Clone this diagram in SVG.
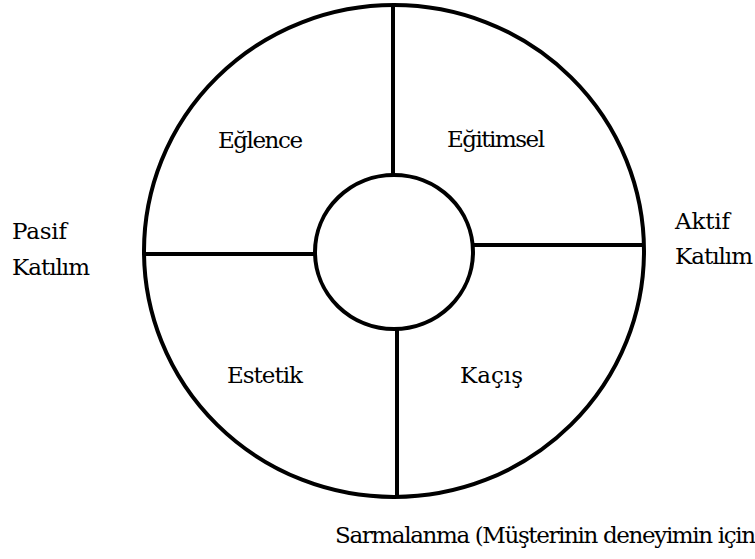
<svg xmlns="http://www.w3.org/2000/svg" width="755" height="559" viewBox="0 0 755 559">
<style>
.ring{fill:none;stroke:#000;stroke-width:4}
.ln{stroke:#000;stroke-width:4}
.t{font-family:'Liberation Serif','DejaVu Serif',serif;font-size:26px;fill:#000}
.d{font-family:'DejaVu Serif',serif;font-size:23px;fill:#000}
.c{text-anchor:middle}
</style>
<rect width="755" height="559" fill="#fff"/>
<g id="outer"><ellipse class="ring" cx="394" cy="251" rx="250" ry="246"/></g>
<g id="connectors">
<line class="ln" x1="393" y1="5" x2="393" y2="175"/>
<line class="ln" x1="397" y1="329" x2="397" y2="497"/>
<line class="ln" x1="144" y1="254" x2="315" y2="254"/>
<line class="ln" x1="473" y1="245" x2="644" y2="245"/>
</g>
<g id="inner"><ellipse class="ring" cx="394" cy="252" rx="79" ry="77"/></g>
<g id="eglence"><text class="d" x="218" y="148" textLength="85">Eğlence</text></g>
<g id="egitimsel"><text class="d" x="447" y="147" textLength="98">Eğitimsel</text></g>
<g id="estetik"><text class="d" x="227" y="383" textLength="76">Estetik</text></g>
<g id="kacis"><text class="d" x="460" y="383" textLength="63">Kaçış</text></g>
<g id="pasif"><text class="d" x="12" y="239" textLength="55">Pasif</text><text class="d" x="12" y="275" textLength="78">Katılım</text></g>
<g id="aktif"><text class="d" x="675" y="229" textLength="55">Aktif</text><text class="d" x="675" y="264" textLength="78">Katılım</text></g>
<g id="sarmalanma"><text class="d" x="335" y="543" textLength="421">Sarmalanma (Müşterinin deneyimin için</text></g>
</svg>
